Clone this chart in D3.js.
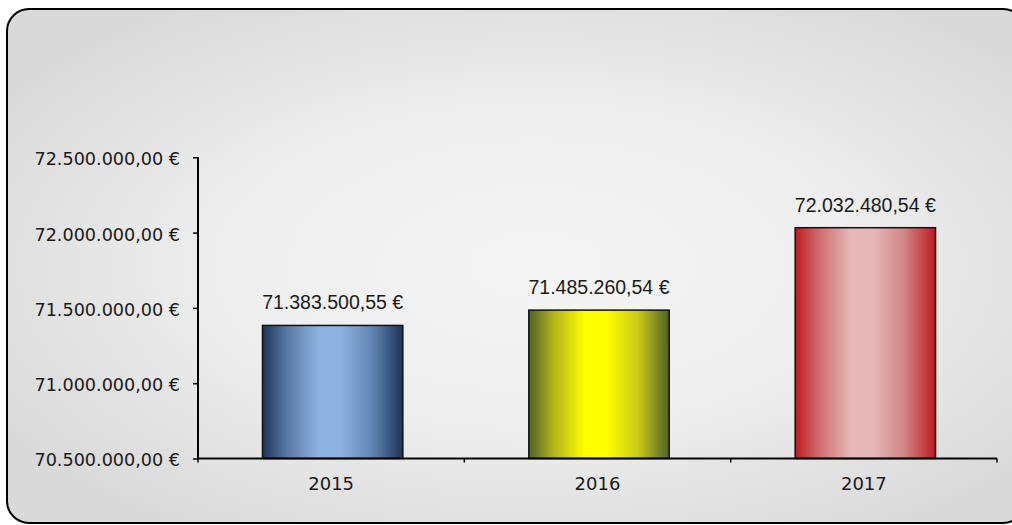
<!DOCTYPE html>
<html>
<head>
<meta charset="utf-8">
<script src="https://cdn.jsdelivr.net/npm/d3@7/dist/d3.min.js"></script>
<style>
  html, body { margin: 0; padding: 0; background: #ffffff; }
  svg { display: block; }
</style>
</head>
<body>
<svg id="chart" width="1012" height="525"></svg>
<script>
// ---- data ----
const categories = ["2015", "2016", "2017"];
const values = [71383500.55, 71485260.54, 72032480.54];
const yTicks = [70500000, 71000000, 71500000, 72000000, 72500000];
const yDomain = [70500000, 72500000];

// ---- styles ----
const barStops = [
  [["0%", "#1c355c"], ["18%", "#5a7aa6"], ["40%", "#8db3e2"], ["55%", "#8db3e2"], ["78%", "#6385b3"], ["100%", "#1c355c"]],
  [["0%", "#4f6228"], ["18%", "#b5b51a"], ["40%", "#ffff00"], ["55%", "#ffff00"], ["78%", "#c9c918"], ["100%", "#4f6228"]],
  [["0%", "#be1a1e"], ["18%", "#cf7272"], ["40%", "#e6b9b8"], ["55%", "#e6b9b8"], ["78%", "#d08585"], ["100%", "#be1a1e"]]
];

const fmtNum = d3.formatLocale({decimal: ",", thousands: ".", grouping: [3], currency: ["", " €"]}).format(",.2f");
const fmt = v => fmtNum(v) + " €";

const svg = d3.select("#chart");
const defs = svg.append("defs");

// background gradient
const bg = defs.append("radialGradient").attr("id", "bg")
  .attr("cx", "52%").attr("cy", "50%").attr("r", "62%")
  .attr("gradientUnits", "objectBoundingBox");
bg.append("stop").attr("offset", "0%").attr("stop-color", "#f5f5f5");
bg.append("stop").attr("offset", "50%").attr("stop-color", "#eeeeee");
bg.append("stop").attr("offset", "100%").attr("stop-color", "#d9d9d9");

svg.append("rect")
  .attr("x", 7).attr("y", 9).attr("width", 1018).attr("height", 514)
  .attr("rx", 22).attr("ry", 22)
  .attr("fill", "url(#bg)").attr("stroke", "#000").attr("stroke-width", 2);

barStops.forEach((stops, i) => {
  const g = defs.append("linearGradient").attr("id", "bar" + i)
    .attr("x1", "0%").attr("x2", "100%").attr("y1", "0%").attr("y2", "0%");
  stops.forEach(s => g.append("stop").attr("offset", s[0]).attr("stop-color", s[1]));
});

const plotL = 198, plotR = 997, plotT = 157.3, plotB = 458.5;

const x = d3.scaleBand().domain(categories).range([plotL, plotR]).padding(0);
const y = d3.scaleLinear().domain(yDomain).range([plotB, plotT]);
const barW = x.bandwidth() * 0.527;

// bars
svg.append("g").selectAll("rect").data(values).join("rect")
  .attr("x", (d, i) => x(categories[i]) + x.bandwidth() / 2 - barW / 2 + 1.5)
  .attr("y", d => y(d))
  .attr("width", barW)
  .attr("height", d => plotB - y(d))
  .attr("fill", (d, i) => `url(#bar${i})`)
  .attr("stroke", "#111").attr("stroke-width", 1.5);

// value labels
svg.append("g").selectAll("text").data(values).join("text")
  .attr("x", (d, i) => x(categories[i]) + x.bandwidth() / 2 + 1.5)
  .attr("y", d => y(d) - 16)
  .attr("text-anchor", "middle")
  .attr("font-family", "'Liberation Sans', Arial, sans-serif")
  .attr("font-size", "19.5px")
  .attr("fill", "#1a1a1a")
  .text(d => fmt(d));

// y axis
const yAxis = d3.axisLeft(y).tickValues(yTicks).tickSize(5).tickPadding(13).tickFormat(fmt);
const gy = svg.append("g").attr("transform", `translate(${plotL},0)`).call(yAxis);
gy.select(".domain").attr("stroke", "#000").attr("stroke-width", 2).attr("d", `M0,${plotT}V${plotB}`);
gy.selectAll(".tick line").attr("stroke", "#000").attr("stroke-width", 1.5);
gy.selectAll(".tick text")
  .attr("font-family", "'DejaVu Sans', Verdana, sans-serif")
  .attr("font-size", "17.6px").attr("fill", "#1a1a1a")
  .attr("dy", "0.42em");

// x axis
const xAxis = d3.axisBottom(x).tickSize(0).tickPadding(19);
const gx = svg.append("g").attr("transform", `translate(0,${plotB})`).call(xAxis);
gx.select(".domain").attr("stroke", "#000").attr("stroke-width", 2).attr("d", `M${plotL},0H${plotR}`);
gx.selectAll(".tick text")
  .attr("font-family", "'DejaVu Sans', Verdana, sans-serif")
  .attr("font-size", "18px").attr("fill", "#1a1a1a");

// x boundary ticks
const bounds = [plotL].concat(categories.map(c => x(c) + x.bandwidth()));
gx.append("g").selectAll("line").data(bounds).join("line")
  .attr("x1", d => d).attr("x2", d => d)
  .attr("y1", 0).attr("y2", 4)
  .attr("stroke", "#000").attr("stroke-width", 1.5);
</script>
</body>
</html>
